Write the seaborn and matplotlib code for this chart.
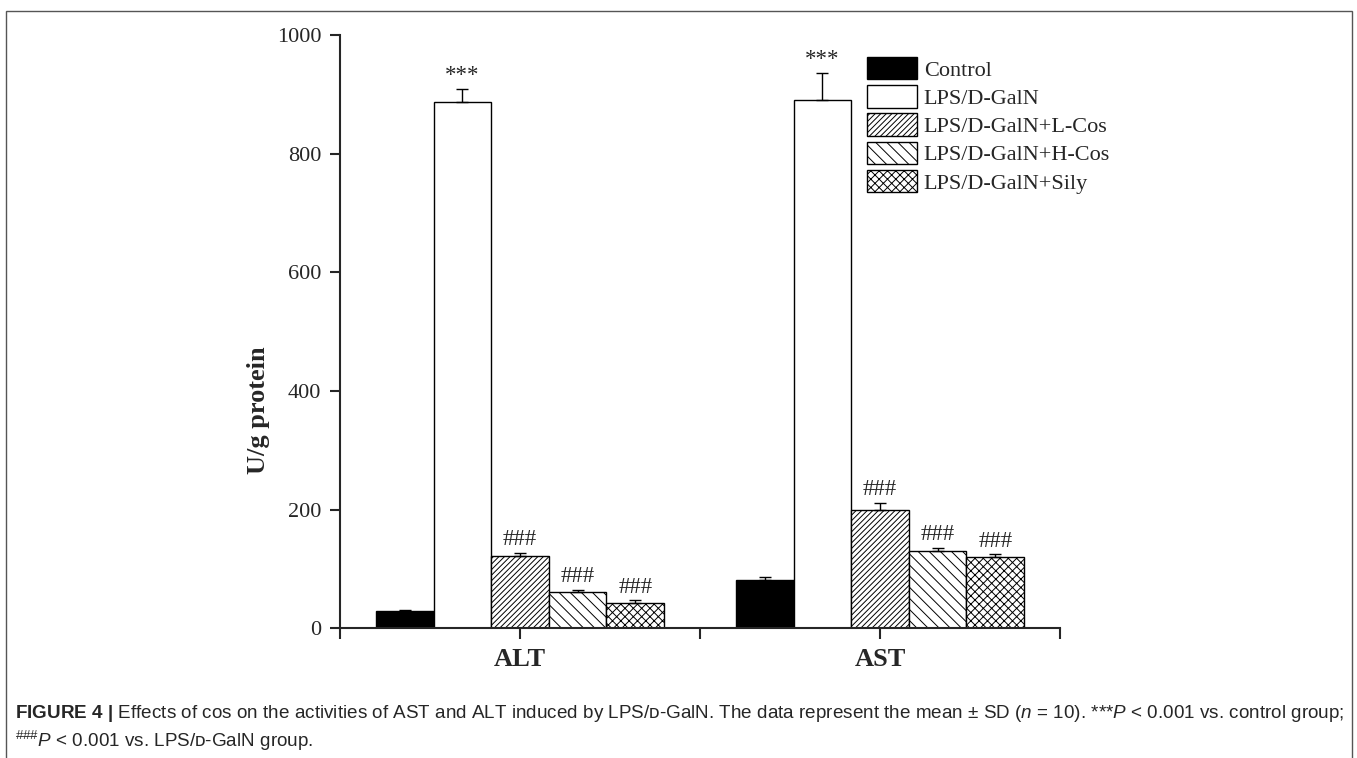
import matplotlib
matplotlib.use("Agg")
import matplotlib.pyplot as plt
from matplotlib.patches import Rectangle
import seaborn as sns
import pandas as pd
import numpy as np

# Daten
tests = ["ALT", "AST"]
groups = ["Control", "LPS/D-GalN", "LPS/D-GalN+L-Cos", "LPS/D-GalN+H-Cos", "LPS/D-GalN+Sily"]
alt_mean = [30, 887, 122, 62, 43]
alt_sd = [1.5, 22, 5.5, 3, 4]
ast_mean = [81, 891, 200, 130, 121]
ast_sd = [5, 45, 11, 6, 3.5]
alt_marks = ["", "***", "###", "###", "###"]
ast_marks = ["", "***", "###", "###", "###"]
yticks = [0, 200, 400, 600, 800, 1000]

df = pd.DataFrame({
    "test": np.repeat(tests, len(groups)),
    "group": groups * 2,
    "mean": alt_mean + ast_mean,
    "sd": alt_sd + ast_sd,
    "mark": alt_marks + ast_marks,
})

sns.set_style("ticks")
plt.rcParams["font.family"] = ["Liberation Serif", "DejaVu Serif"]
plt.rcParams["hatch.linewidth"] = 0.7
plt.rcParams["mathtext.fontset"] = "custom"
plt.rcParams["mathtext.rm"] = "Liberation Sans"
plt.rcParams["mathtext.it"] = "Liberation Sans:italic"
plt.rcParams["mathtext.bf"] = "Liberation Sans:bold"

W, H = 1357, 758
fig = plt.figure(figsize=(W / 100, H / 100), dpi=100)
ax = fig.add_axes([340 / W, 1 - 628.3 / H, 720 / W, 593.3 / H])

sns.barplot(data=df, x="test", y="mean", hue="group", hue_order=groups,
            palette=["black"] + ["white"] * 4, saturation=1,
            edgecolor="black", linewidth=1, width=0.8,
            errorbar=None, legend=False, ax=ax)

bar_conts = list(ax.containers)
hatches = [None, None, "//////", "\\\\\\", "xxxx"]
for cont, h, grp in zip(bar_conts, hatches, groups):
    sub = df[df["group"] == grp]
    xs = []
    for bar in cont:
        if h:
            bar.set_hatch(h)
        xs.append(bar.get_x() + bar.get_width() / 2)
    ax.errorbar(xs, sub["mean"], yerr=[np.zeros(len(sub)), sub["sd"]],
                fmt="none", ecolor="black", elinewidth=1, capsize=4.5, capthick=1)
    for x, m, s, mk in zip(xs, sub["mean"], sub["sd"], sub["mark"]):
        if mk:
            ax.annotate(mk, (x, m + s), xytext=(0, 2), textcoords="offset points",
                        ha="center", va="bottom", fontsize=16.5)

ax.set_xlim(-0.5, 1.5)
ax.set_ylim(0, 1000)
ax.set_yticks(yticks)
ax.set_xticks([-0.5, 0, 0.5, 1, 1.5])
ax.set_xticklabels(["", "ALT", "", "AST", ""], fontsize=19, fontweight="bold")
ax.tick_params(axis="y", labelsize=16, length=7.5, width=1.5, pad=6, direction="out")
ax.tick_params(axis="x", length=8, width=1.5, pad=6, direction="out")
ax.set_xlabel("")
ax.set_ylabel("U/g protein", fontsize=19, fontweight="bold")
ax.yaxis.set_label_coords(-0.097, 0.368)
sns.despine(ax=ax)
for sp in ["left", "bottom"]:
    ax.spines[sp].set_linewidth(1.5)

handles = [cont.patches[0] for cont in bar_conts]
ax.legend(handles, groups, loc="upper left", bbox_to_anchor=(867 / W, 1 - 57 / H),
          bbox_transform=fig.transFigure, frameon=False, fontsize=16,
          handlelength=2.25, handleheight=1.18, labelspacing=0.2,
          handletextpad=0.3, borderpad=0, borderaxespad=0)

# Rahmen und Bildunterschrift
fig.add_artist(Rectangle((6 / W, -0.05), (1352 - 6) / W, 1.05 - 11 / H,
                         transform=fig.transFigure, fill=False,
                         edgecolor="#555555", linewidth=1))
cap_font = ["Liberation Sans", "DejaVu Sans"]
line1 = (r"$\mathbf{FIGURE\ 4\ |}$ Effects of cos on the activities of AST and ALT induced by "
         r"LPS/ᴅ-GalN. The data represent the mean ± SD ($\mathit{n}$ = 10). "
         r"***$\mathit{P}$ < 0.001 vs. control group;")
line2 = r"$^{\#\#\#}\mathit{P}$ < 0.001 vs. LPS/ᴅ-GalN group."
fig.text(15 / W, 1 - 714 / H, line1, family=cap_font, fontsize=13.6, va="center")
fig.text(15 / W, 1 - 741 / H, line2, family=cap_font, fontsize=13.6, va="center")

fig.savefig("out.png", dpi=100)
